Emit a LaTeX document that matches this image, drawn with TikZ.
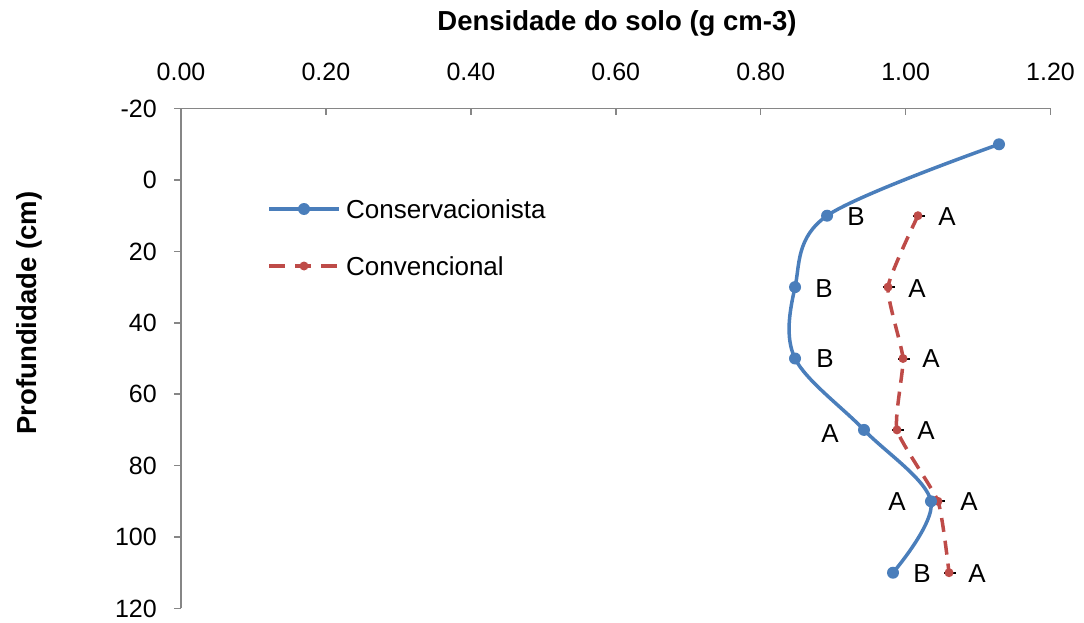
\documentclass[tikz,border=0pt]{standalone}
\usepackage{fontspec}
\setmainfont{Liberation Sans}
\definecolor{cblue}{HTML}{4A7EBB}
\definecolor{cred}{HTML}{BE4B48}
\definecolor{axgray}{HTML}{868686}
\tikzset{
  axisline/.style={draw=axgray, line width=1.5pt},
  blueline/.style={draw=cblue, line width=3.5pt, line cap=round, line join=round},
  redline/.style={draw=cred, line width=3.5pt, dash pattern=on 14pt off 9pt},
  errbar/.style={draw=black, line width=2pt},
  ticklab/.style={font=\fontsize{25}{30}\selectfont, inner sep=0pt},
  ptlab/.style={font=\fontsize{26}{31}\selectfont, inner sep=0pt},
  leglab/.style={font=\fontsize{26}{31}\selectfont, inner sep=0pt, anchor=west},
  axtitle/.style={font=\bfseries\fontsize{27.5}{33}\selectfont, inner sep=0pt},
}
\begin{document}
\begin{tikzpicture}[x=1pt,y=-1pt]
\useasboundingbox (0,0) rectangle (1084,623);
% titles
\node[axtitle] (xtitle) at (617,23) {Densidade do solo (g cm-3)};
\node[axtitle, rotate=90] (ytitle) at (29,313) {Profundidade (cm)};
\begin{scope}[shift={(181,180)}, x=724.6pt, y=-3.57pt]
  % axes
  \coordinate (o) at (0,-20);
  \coordinate (xe) at (1.2,-20);
  \coordinate (ye) at (0,120);
  \draw[axisline] (o) -- (xe);
  \draw[axisline] (o) -- (ye);
  \foreach \v/\l in {0/0.00,0.2/0.20,0.4/0.40,0.6/0.60,0.8/0.80,1.0/1.00,1.2/1.20}{
    \draw[axisline] (\v,-20) -- ++(0,-6.5pt);
    \node[ticklab] (xl\l) at ([yshift=36.5pt]\v,-20) {\l};
  }
  \foreach \d in {-20,0,20,40,60,80,100,120}{
    \draw[axisline] (0,\d) -- ++(-7pt,0);
    \node[ticklab, anchor=east] (yl\d) at ([xshift=-24pt]0,\d) {\d};
  }
  % data coordinates
  \coordinate (c1) at (1.1289,-10);
  \coordinate (c2) at (0.8916,10);
  \coordinate (c3) at (0.8474,30);
  \coordinate (c4) at (0.8474,50);
  \coordinate (c5) at (0.9426,70);
  \coordinate (c6) at (1.0350,90);
  \coordinate (c7) at (0.9826,110);
  \coordinate (r1) at (1.0170,10);
  \coordinate (r2) at (0.9757,30);
  \coordinate (r3) at (0.9964,50);
  \coordinate (r4) at (0.9881,70);
  \coordinate (r5) at (1.0447,90);
  \coordinate (r6) at (1.0599,110);
\end{scope}
% series lines
\draw[redline] plot[smooth, tension=0.3] coordinates {(r1) (r2) (r3) (r4) (r5) (r6)};
\draw[blueline] plot[smooth, tension=0.55] coordinates {(c1) (c2) (c3) (c4) (c5) (c6) (c7)};
% error bars and markers
\foreach \p in {r1,r2,r3,r4,r5,r6}{
  \draw[errbar] ([xshift=-5pt]\p) -- ([xshift=7pt]\p);
  \fill[cred] (\p) circle (4.5pt);
}
\foreach \p in {c1,c2,c3,c4,c5,c6,c7}{
  \fill[cblue] (\p) circle (6pt);
}
% point labels
\node[ptlab] (lc2) at (856,217) {B};
\node[ptlab] (lr1) at (947,217) {A};
\node[ptlab] (lc3) at (824,289) {B};
\node[ptlab] (lr2) at (917,289) {A};
\node[ptlab] (lc4) at (825,359) {B};
\node[ptlab] (lr3) at (931,359) {A};
\node[ptlab] (lc5) at (830,434) {A};
\node[ptlab] (lr4) at (926,431) {A};
\node[ptlab] (lc6) at (897,502) {A};
\node[ptlab] (lr5) at (969,502) {A};
\node[ptlab] (lc7) at (922,574) {B};
\node[ptlab] (lr6) at (977,574) {A};
% legend
\coordinate (lb1) at (269,209);
\coordinate (lb2) at (339,209);
\coordinate (lbm) at (304,209);
\coordinate (lr1a) at (269,266);
\coordinate (lr2a) at (339,266);
\coordinate (lrm) at (304,266);
\draw[blueline, line cap=butt] (lb1) -- (lb2);
\fill[cblue] (lbm) circle (6pt);
\draw[draw=cred, line width=3.5pt, dash pattern=on 16pt off 10pt] (lr1a) -- (lr2a);
\fill[cred] (lrm) circle (4.5pt);
\node[leglab] (leg1) at (346,209) {Conservacionista};
\node[leglab] (leg2) at (346,266) {Convencional};
\end{tikzpicture}
\end{document}
